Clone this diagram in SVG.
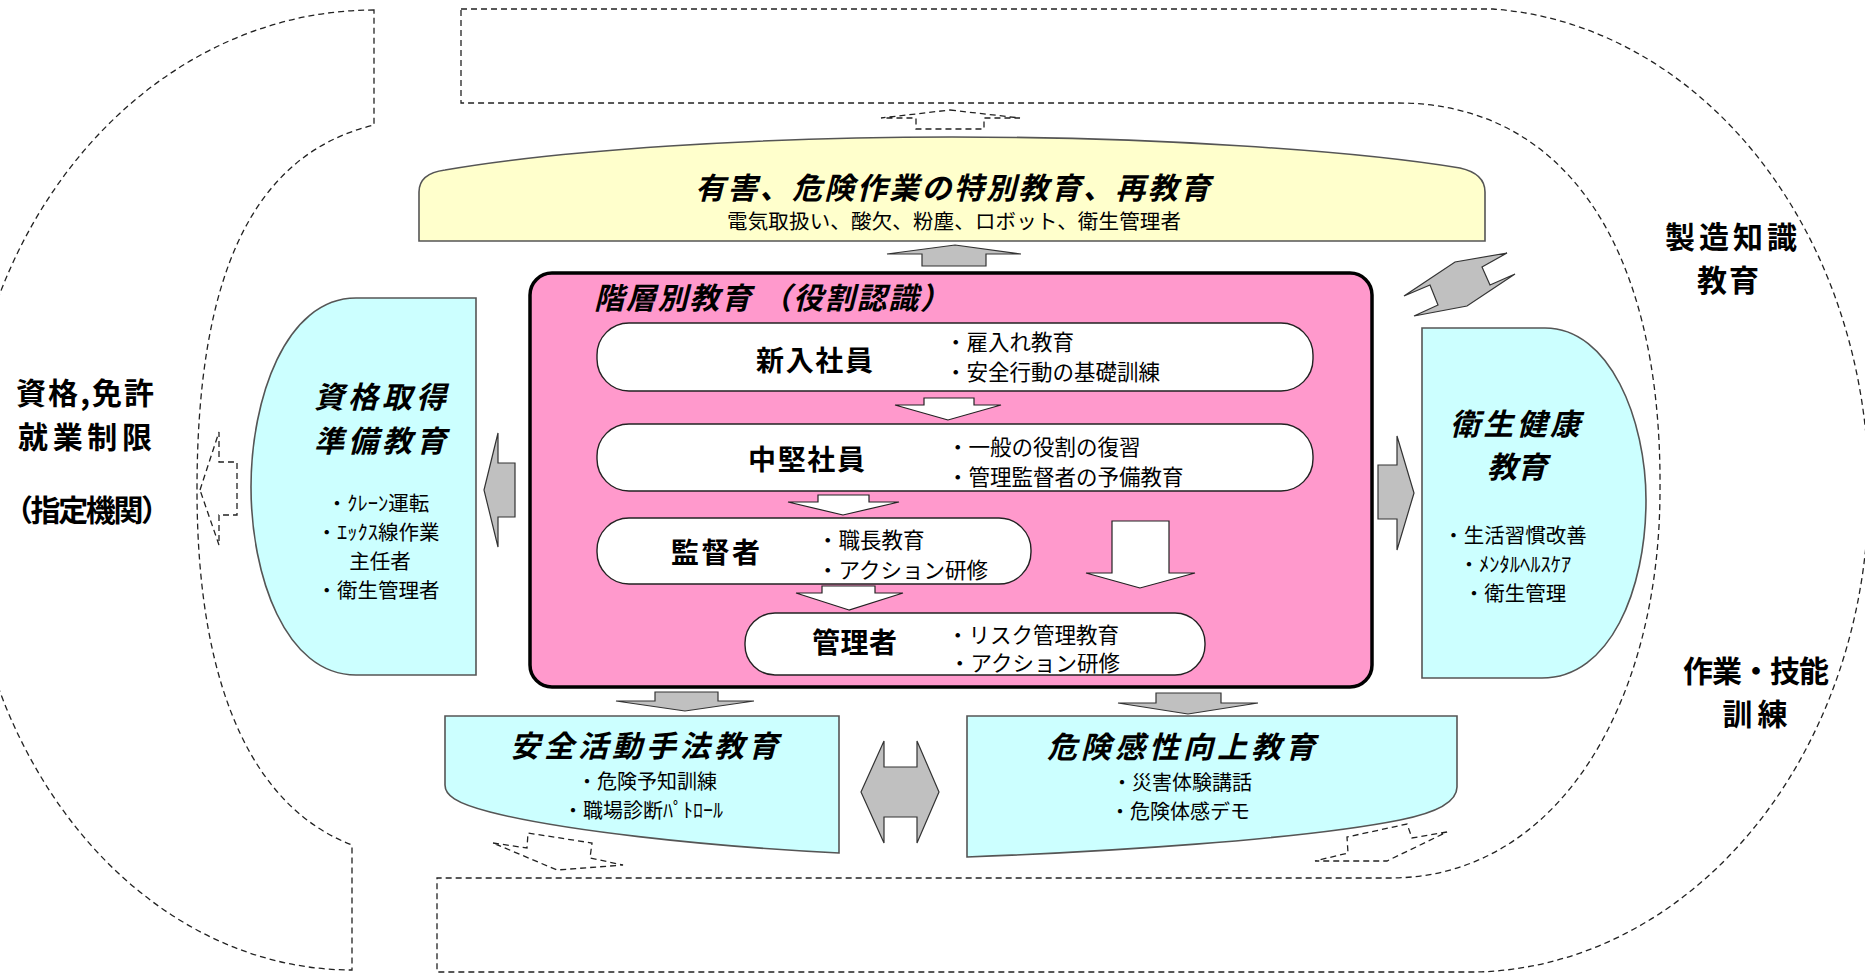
<svg xmlns="http://www.w3.org/2000/svg" width="1865" height="976" viewBox="0 0 1865 976">
<style>
.track{fill:none;stroke:#222;stroke-width:1.3;stroke-dasharray:6 4}
.dash{fill:#fff;stroke:#222;stroke-width:1.3;stroke-dasharray:6 4}
.yellow{fill:#FFFFCC;stroke:#555;stroke-width:1.6}
.cyan{fill:#CCFFFF;stroke:#555;stroke-width:1.6}
.pink{fill:#FF99CC;stroke:#000;stroke-width:3.5}
.row{fill:#fff;stroke:#222;stroke-width:1.4}
.garrow{fill:#C0C0C0;stroke:#333;stroke-width:1.2}
.warrow{fill:#fff;stroke:#222;stroke-width:1.2}
text{font-family:"Noto Sans CJK JP","Noto Sans",sans-serif;fill:#000}
.ti{font-weight:bold;font-style:italic;font-size:30px}
.tb{font-weight:bold;font-size:28px}
.lb{font-weight:bold;font-size:30px}
.s{font-size:20.5px}
.r{font-size:21.5px}
.b{font-size:20px}
.m{text-anchor:middle}
</style>
<rect x="0" y="0" width="1865" height="976" fill="#fff"/>

<g id="track">
<path class="track" d="M374,10 A410,480 0 0 0 -36,490 A388,480 0 0 0 352,970 L352,845 C260,810 197,700 197,490 C197,280 250,155 374,125 Z"/>
<path class="track" d="M461,9 H1493 A400,482 0 0 1 1477,972 H437 V878 H1390 C1560,878 1660,700 1660,490 C1662,240 1560,103 1398,103 H461 Z"/>
</g>

<g id="special-education">
<path class="yellow" d="M419,241 V192 C419,178 430,172 445,170 C560,150 760,137 952,137 C1150,137 1350,150 1460,168 C1478,172 1485,180 1485,192 V241 Z"/>
<text class="ti" x="695" y="199" font-size="31" textLength="515">有害、危険作業の特別教育、再教育</text>
<text class="s" x="727" y="229" font-size="21" textLength="454">電気取扱い、酸欠、粉塵、ロボット、衛生管理者</text>
</g>

<g id="qualification-prep">
<path class="cyan" d="M476,298 H356 C285,298 251,400 251,487 C251,575 285,675 356,675 H476 Z"/>
<text class="ti m" x="380" y="408" textLength="132">資格取得</text>
<text class="ti m" x="380" y="452" textLength="132">準備教育</text>
<text class="s m" x="378" y="511">・ｸﾚｰﾝ運転</text>
<text class="s m" x="378" y="540">・ｴｯｸｽ線作業</text>
<text class="s m" x="380" y="569">主任者</text>
<text class="s m" x="378" y="598">・衛生管理者</text>
</g>

<g id="health-education">
<path class="cyan" d="M1422,328 H1545 C1610,328 1646,420 1646,500 C1646,590 1610,678 1542,678 H1422 Z"/>
<text class="ti m" x="1515" y="435" textLength="130">衛生健康</text>
<text class="ti m" x="1517" y="478">教育</text>
<text class="s m" x="1515" y="543">・生活習慣改善</text>
<text class="s m" x="1515" y="572">・ﾒﾝﾀﾙﾍﾙｽｹｱ</text>
<text class="s m" x="1515" y="601">・衛生管理</text>
</g>

<g id="safety-method">
<path class="cyan" d="M445,716 H839 V853 C700,846 560,830 490,812 C455,803 445,795 445,785 Z"/>
<text class="ti m" x="644" y="757" textLength="268">安全活動手法教育</text>
<text class="b m" x="647" y="789">・危険予知訓練</text>
<text class="b m" x="643" y="818">・職場診断ﾊﾟﾄﾛｰﾙ</text>
</g>

<g id="hazard-sensitivity">
<path class="cyan" d="M967,716 H1457 V787 C1457,800 1440,812 1400,820 C1300,840 1100,852 967,857 Z"/>
<text class="ti m" x="1181" y="758" textLength="268">危険感性向上教育</text>
<text class="b m" x="1182" y="790">・災害体験講話</text>
<text class="b m" x="1180" y="819">・危険体感デモ</text>
</g>

<g id="hierarchical-education">
<rect class="pink" x="530" y="273" width="842" height="414" rx="22"/>
<text class="ti" x="594" y="309" font-size="28" textLength="356">階層別教育 （役割認識）</text>
</g>

<g id="new-employee">
<rect class="row" x="597" y="323" width="716" height="68" rx="32"/>
<text class="tb" x="756" y="371" textLength="117">新入社員</text>
<text class="r" x="945" y="350">・雇入れ教育</text>
<text class="r" x="945" y="380">・安全行動の基礎訓練</text>
</g>

<g id="mid-employee">
<rect class="row" x="597" y="424" width="716" height="67" rx="32"/>
<text class="tb" x="748" y="470" textLength="117">中堅社員</text>
<text class="r" x="947" y="455">・一般の役割の復習</text>
<text class="r" x="947" y="485">・管理監督者の予備教育</text>
</g>

<g id="supervisor">
<rect class="row" x="597" y="518" width="434" height="66" rx="32"/>
<text class="tb" x="671" y="563" textLength="89">監督者</text>
<text class="r" x="817" y="548">・職長教育</text>
<text class="r" x="817" y="578">・アクション研修</text>
</g>

<g id="manager">
<rect class="row" x="745" y="613" width="460" height="62" rx="30"/>
<text class="tb" x="812" y="653" textLength="85">管理者</text>
<text class="r" x="947" y="643">・リスク管理教育</text>
<text class="r" x="949" y="671">・アクション研修</text>
</g>

<g id="outer-labels">
<text class="lb m" x="85" y="404" textLength="138">資格,免許</text>
<text class="lb m" x="85" y="448" textLength="134">就業制限</text>
<text class="lb m" x="87" y="521" textLength="168">（指定機関）</text>
<text class="lb m" x="1731" y="248" textLength="132">製造知識</text>
<text class="lb m" x="1728" y="291" textLength="62">教育</text>
<text class="lb m" x="1756" y="682" textLength="146">作業・技能</text>
<text class="lb m" x="1755" y="725" textLength="65">訓練</text>
</g>

<g id="connectors">
<path class="dash" d="M950,110 L1020,118 H984 V129 H916 V118 H881 Z"/>
<path class="dash" d="M200,490 L219,432 V462 H237 V515 H219 V545 Z"/>
<path class="dash" d="M493,843 L527,848 L528,833 L592,843 L590,858 L623,865 L557,870 Z"/>
<path class="dash" d="M1447,832 L1412,838 L1407,824 L1347,837 L1348,853 L1315,861 L1387,861 Z"/>
<path class="garrow" d="M955,245 L1021,254 H986 V266 H922 V254 H887 Z"/>
<path class="garrow" d="M484,490 L498,433 V463 H515 V517 H498 V547 Z"/>
<path class="garrow" d="M1414,493 L1397,550 V519 H1378 V465 H1397 V436 Z"/>
<path class="garrow" d="M685,711 L616,701 H655 V692 H718 V701 H754 Z"/>
<path class="garrow" d="M1188,714 L1118,703 H1156 V693 H1221 V703 H1258 Z"/>
<path class="garrow" d="M861,792 L884,741 V767 H917 V741 L939,792 L917,843 V817 H884 V843 Z"/>
<path class="garrow" d="M1404,296 L1455,262 L1507,253 L1482,267 L1490,285 L1515,274 L1467,306 L1414,316 L1438,305 L1430,285 Z"/>
<path class="warrow" d="M948,420 L895,405 H924 V398 H974 V405 H1001 Z"/>
<path class="warrow" d="M843,515 L788,502 H818 V495 H869 V502 H899 Z"/>
<path class="warrow" d="M849,610 L796,593 H822 V586 H875 V593 H903 Z"/>
<path class="warrow" d="M1140,588 L1086,573 H1112 V521 H1169 V573 H1195 Z"/>
</g>
</svg>
